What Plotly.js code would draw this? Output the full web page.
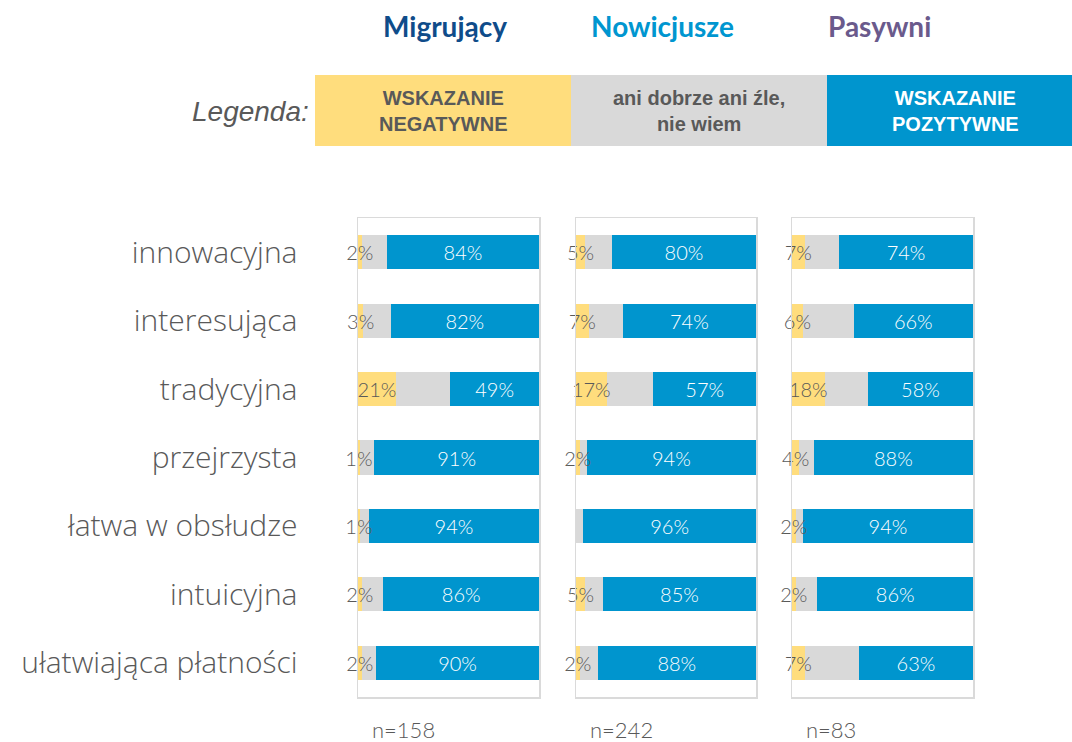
<!DOCTYPE html>
<html>
<head>
<meta charset="utf-8">
<script src="https://cdn.plot.ly/plotly-3.0.1.min.js"></script>
<style>html,body{margin:0;padding:0;background:#fff;}#chart{width:1072px;height:742px;}</style>
</head>
<body>
<div id="chart"></div>
<script>
const categories = ["innowacyjna", "interesująca", "tradycyjna", "przejrzysta", "łatwa w obsłudze", "intuicyjna", "ułatwiająca płatności"];
const groups = ["Migrujący", "Nowicjusze", "Pasywni"];
const groupColors = ["#0F4C8A", "#0096D0", "#6A5A8C"];
const sampleSizes = ["n=158", "n=242", "n=83"];

const negMigrujacy = [2, 3, 21, 1, 1, 2, 2];
const neuMigrujacy = [14, 15, 30, 8, 5, 12, 8];
const posMigrujacy = [84, 82, 49, 91, 94, 86, 90];

const negNowicjusze = [5, 7, 17, 2, 0, 5, 2];
const neuNowicjusze = [15, 19, 26, 4, 4, 10, 10];
const posNowicjusze = [80, 74, 57, 94, 96, 85, 88];

const negPasywni = [7, 6, 18, 4, 2, 2, 7];
const neuPasywni = [19, 28, 24, 8, 4, 12, 30];
const posPasywni = [74, 66, 58, 88, 94, 86, 63];

const legendLabels = ["WSKAZANIE<br>NEGATYWNE", "ani dobrze ani źle,<br>nie wiem", "WSKAZANIE<br>POZYTYWNE"];

const YELLOW = "#FFDD7D", GRAY = "#D9D9D9", BLUE = "#0095CE";
const TXT = "#595959";
const FONT = "Lato, 'Open Sans', sans-serif";
const LBL = {family: FONT, size: 20, weight: 300};

const series = [
  [negMigrujacy, neuMigrujacy, posMigrujacy],
  [negNowicjusze, neuNowicjusze, posNowicjusze],
  [negPasywni, neuPasywni, posPasywni]
];
const pct = arr => arr.map(v => v ? v + "%" : "");

const traces = [];
series.forEach((s, i) => {
  const sfx = i === 0 ? "" : String(i + 1);
  const common = {type: "bar", orientation: "h", y: categories, xaxis: "x" + sfx, yaxis: "y" + sfx,
    showlegend: false, hoverinfo: "skip", cliponaxis: false, textangle: 0,
    constraintext: "none", textposition: "inside", insidetextanchor: "middle"};
  traces.push(Object.assign({}, common, {x: s[0], marker: {color: YELLOW}}));
  traces.push(Object.assign({}, common, {x: s[1], marker: {color: GRAY}}));
  traces.push(Object.assign({}, common, {x: s[2], text: pct(s[2]), marker: {color: BLUE},
    textfont: Object.assign({color: "#FFFFFF"}, LBL)}));
});
// label layer for negative values, drawn on overlaying axes so gray bars do not cover it
series.forEach((s, i) => {
  traces.push({type: "bar", orientation: "h", y: categories, x: s[0], text: pct(s[0]),
    xaxis: "x" + (i + 4), yaxis: "y" + (i === 0 ? "" : String(i + 1)),
    marker: {color: "rgba(0,0,0,0)"}, showlegend: false, hoverinfo: "skip", cliponaxis: false,
    textangle: 0, constraintext: "none", textposition: "inside", insidetextanchor: "middle",
    textfont: Object.assign({color: TXT}, LBL)});
});

const W = 1072, H = 742;
const xDomains = [[358 / W, 539 / W], [576 / W, 756 / W], [792 / W, 973 / W]];
const yDomain = [1 - 697 / H, 1 - 218 / H];

const layout = {
  width: W, height: H,
  margin: {l: 0, r: 0, t: 0, b: 0},
  paper_bgcolor: "#fff", plot_bgcolor: "rgba(0,0,0,0)",
  barmode: "stack", bargap: 0.5,
  font: {family: FONT, color: TXT},
  annotations: [], shapes: []
};
for (let i = 0; i < 3; i++) {
  const sfx = i === 0 ? "" : String(i + 1);
  layout["xaxis" + sfx] = {domain: xDomains[i], range: [0, 100], showticklabels: false, showgrid: false,
    zeroline: false, ticks: "", showline: true, mirror: true, linecolor: "#DADADA", linewidth: 1.5,
    anchor: "y" + sfx, fixedrange: true};
  layout["xaxis" + (i + 4)] = {overlaying: "x" + sfx, range: [0, 100], visible: false, anchor: "y" + sfx,
    fixedrange: true};
  layout["yaxis" + sfx] = {domain: yDomain, autorange: "reversed", showgrid: false, zeroline: false,
    ticks: "", showline: true, mirror: true, linecolor: "#DADADA", linewidth: 1.5,
    anchor: "x" + sfx, showticklabels: i === 0, fixedrange: true,
    tickfont: {size: 30, color: TXT, family: "'Open Sans', Lato, sans-serif", weight: 300}, ticklabelstandoff: 53};
  if (i > 0) layout["yaxis" + sfx].matches = "y";

  const cx = (xDomains[i][0] + xDomains[i][1]) / 2;
  layout.annotations.push({text: "<b>" + groups[i] + "</b>", xref: "paper", yref: "paper",
    x: cx - 0.003, y: 1 - 26 / H, showarrow: false, font: {size: 28, color: groupColors[i], family: FONT},
    xanchor: "center", yanchor: "middle"});
  layout.annotations.push({text: sampleSizes[i], xref: "paper", yref: "paper",
    x: xDomains[i][0] + 12 / W, y: 1 - 729 / H, showarrow: false,
    font: {size: 22, color: TXT, family: FONT, weight: 300}, xanchor: "left", yanchor: "middle"});
}

// legend boxes
const boxX = [315, 571, 827, 1072];
const boxCenters = [443, 699, 955];
const boxColors = [YELLOW, GRAY, BLUE];
const boxText = [TXT, TXT, "#FFFFFF"];
for (let k = 0; k < 3; k++) {
  layout.shapes.push({type: "rect", xref: "paper", yref: "paper",
    x0: boxX[k] / W, x1: boxX[k + 1] / W, y0: 1 - 146 / H, y1: 1 - 75 / H,
    fillcolor: boxColors[k], line: {width: 0}, layer: "below"});
  layout.annotations.push({text: "<b>" + legendLabels[k] + "</b>", xref: "paper", yref: "paper",
    x: boxCenters[k] / W, y: 1 - 111 / H,
    showarrow: false, align: "center",
    font: {size: 20, color: boxText[k], family: "'Liberation Sans', Arial, sans-serif"},
    xanchor: "center", yanchor: "middle"});
}
layout.annotations.push({text: "<i>Legenda:</i>", xref: "paper", yref: "paper",
  x: 311 / W, y: 1 - 111 / H, showarrow: false, xanchor: "right", yanchor: "middle",
  font: {size: 28, color: TXT, family: "'Liberation Sans', Arial, sans-serif"}});

Plotly.newPlot("chart", traces, layout, {displayModeBar: false, staticPlot: true});
</script>
</body>
</html>
